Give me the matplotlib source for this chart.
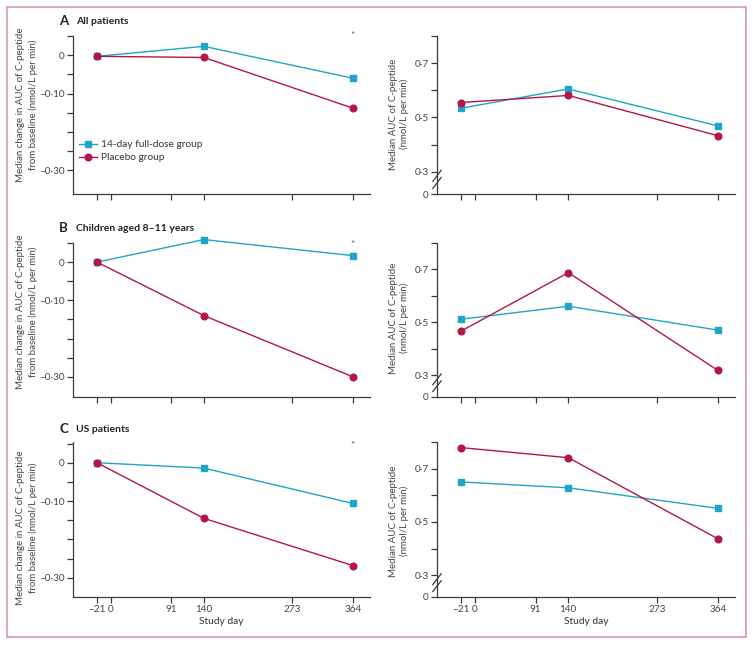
import matplotlib
matplotlib.use("Agg")
import matplotlib.pyplot as plt
from matplotlib.patches import Rectangle

plt.rcParams['font.family'] = ['Lato', 'DejaVu Sans']

# --- data ---
days = [-21, 140, 364]
xticks = [-21, 0, 91, 140, 273, 364]
xtick_labels = ['–21', '0', '91', '140', '273', '364']

panel_letters = ['A', 'B', 'C']
panel_titles = ['All patients', 'Children aged 8–11 years', 'US patients']

# median change from baseline (left column)
change_full = [[-0.003, 0.023, -0.060],
               [0.0, 0.059, 0.017],
               [0.0, -0.014, -0.106]]
change_placebo = [[-0.003, -0.006, -0.138],
                  [0.0, -0.140, -0.300],
                  [0.0, -0.145, -0.268]]

# median AUC (right column)
auc_full = [[0.534, 0.605, 0.469],
            [0.512, 0.561, 0.471],
            [0.650, 0.628, 0.551]]
auc_placebo = [[0.555, 0.581, 0.433],
               [0.467, 0.688, 0.319],
               [0.779, 0.741, 0.437]]

left_yticks = [0.05, 0, -0.05, -0.10, -0.15, -0.20, -0.25, -0.30]
left_ylabels = ['', '0', '', '–0·10', '', '', '', '–0·30']
right_yticks = [0.8, 0.7, 0.6, 0.5, 0.4, 0.3]
right_ylabels = ['', '0·7', '', '0·5', '', '0·3']

BLUE = '#1fa5c7'
RED = '#b3164a'
AXC = '#3a3a3a'
TXT = '#444444'

W, H = 753, 645
fig = plt.figure(figsize=(W / 100, H / 100), dpi=100)

# pixel boxes of the panels: (top, bottom)
rows = [(36, 194), (243, 397), (442, 597)]
left_x = (73, 370)
right_x = (437, 735)
left_ylim = [(-0.362, 0.05), (-0.353, 0.05), (-0.35, 0.054)]
right_ylim = (0.218, 0.8)
title_y = [21, 228, 429]
left_label_y = [105, 312, 528]
right_label_y = [114, 318, 521]


def add_ax(x0, x1, top, bottom):
    return fig.add_axes([x0 / W, 1 - bottom / H, (x1 - x0) / W, (bottom - top) / H])


def px_text(x, y, s, **kw):
    return fig.text(x / W, 1 - y / H, s, **kw)


def style(ax, show_xlabels):
    for s in ['top', 'right']:
        ax.spines[s].set_visible(False)
    for s in ['left', 'bottom']:
        ax.spines[s].set_color(AXC)
        ax.spines[s].set_linewidth(0.9)
    ax.tick_params(colors=AXC, width=0.9, length=4, labelsize=7.2, pad=2,
                   labelcolor=TXT)
    ax.set_xlim(-57, 390)
    ax.set_xticks(xticks)
    if show_xlabels:
        ax.set_xticklabels(xtick_labels)
        ax.set_xlabel('Study day', fontsize=7.4, color='#333333', labelpad=2)
    else:
        ax.set_xticklabels([])


for i in range(3):
    top, bottom = rows[i]
    last = i == 2

    # left: change from baseline
    ax = add_ax(left_x[0], left_x[1], top, bottom)
    ax.plot(days, change_full[i], color=BLUE, lw=1, marker='s', ms=4.4,
            label='14-day full-dose group', clip_on=False)
    ax.plot(days, change_placebo[i], color=RED, lw=1, marker='o', ms=4.8,
            label='Placebo group', clip_on=False)
    ax.set_ylim(*left_ylim[i])
    ax.set_yticks(left_yticks)
    ax.set_yticklabels(left_ylabels)
    style(ax, last)
    px_text(27, left_label_y[i],
            'Median change in AUC of C-peptide\nfrom baseline (nmol/L per min)',
            rotation=90, ha='center', va='center', fontsize=7, color=TXT,
            linespacing=1.35, multialignment='center')
    ax.text(364, 0.052 if i == 0 else 0.046, '*', ha='center', va='center',
            fontsize=7, color='#555555')
    px_text(59, title_y[i], panel_letters[i], fontsize=9.5, fontweight='bold',
            color='#222222', va='center', ha='left')
    px_text(76, title_y[i], panel_titles[i], fontsize=7.5, fontweight='bold',
            color='#222222', va='center', ha='left')
    if i == 0:
        ax.legend(loc='center left', bbox_to_anchor=(-0.01, 0.27), frameon=False,
                  fontsize=7.3, handlelength=1.8, handletextpad=0.4,
                  labelspacing=0.4, labelcolor='#333333')

    # right: median AUC with broken axis
    ax = add_ax(right_x[0], right_x[1], top, bottom)
    ax.plot(days, auc_full[i], color=BLUE, lw=1, marker='s', ms=4.4)
    ax.plot(days, auc_placebo[i], color=RED, lw=1, marker='o', ms=4.8)
    ax.set_ylim(*right_ylim)
    ax.set_yticks(right_yticks + [right_ylim[0]])
    ax.set_yticklabels(right_ylabels + ['0'])
    style(ax, last)
    px_text(399, right_label_y[i], 'Median AUC of C-peptide\n(nmol/L per min)',
            rotation=90, ha='center', va='center', fontsize=7, color=TXT,
            linespacing=1.3, multialignment='center')
    for yc in (0.115, 0.07):
        ax.plot([-0.014, 0.014], [yc - 0.035, yc + 0.035], transform=ax.transAxes,
                color=AXC, lw=0.9, clip_on=False)

fig.add_artist(Rectangle((7 / W, 1 - 637 / H), 739 / W, 630 / H,
                         transform=fig.transFigure, fill=False,
                         edgecolor='#d79ab0', lw=1.2))

fig.savefig('out.png', dpi=100)
